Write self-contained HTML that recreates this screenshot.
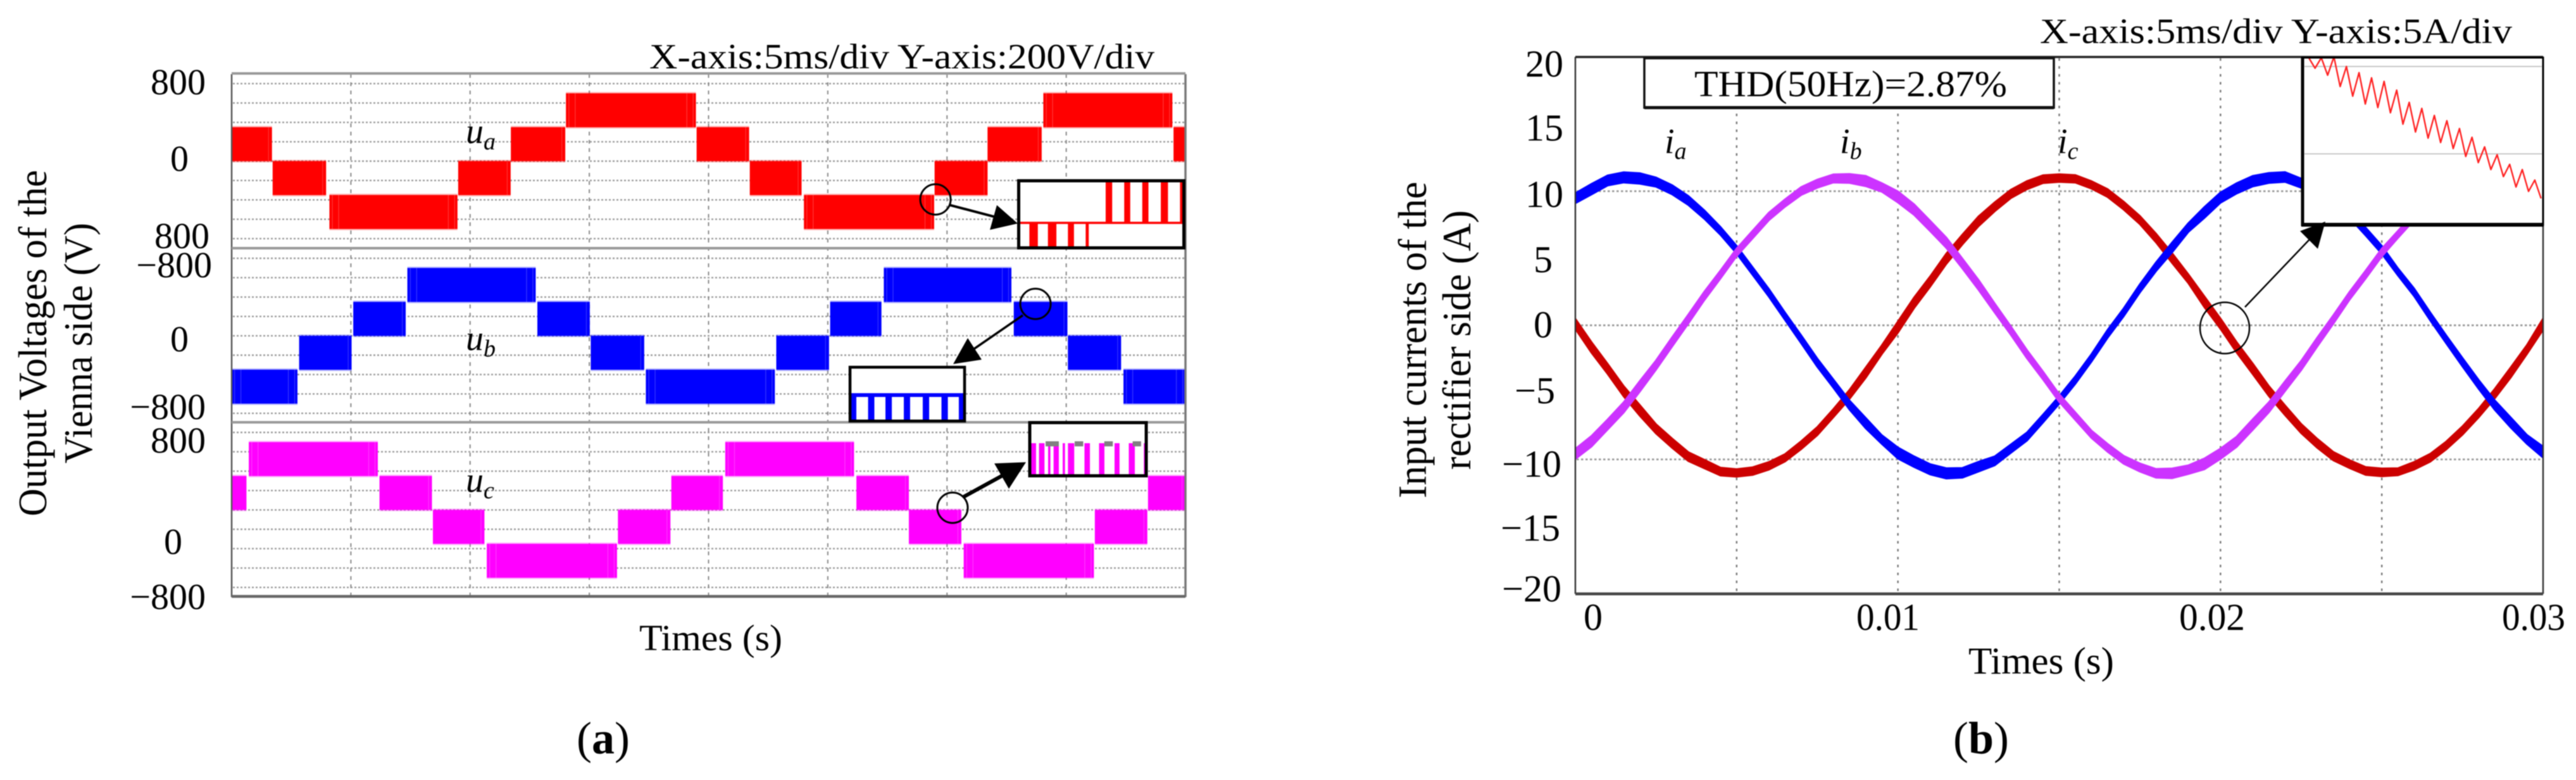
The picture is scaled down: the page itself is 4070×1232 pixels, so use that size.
<!DOCTYPE html>
<html lang="en">
<head>
<meta charset="utf-8">
<title>Vienna rectifier voltages and currents</title>
<style>
html,body{margin:0;padding:0;background:#fff;}
svg{display:block;width:4070px;height:1232px;font-family:"Liberation Serif","Times New Roman",serif;fill:#000;filter:blur(0.8px);}
</style>
</head>
<body>
<svg id="fig" xmlns="http://www.w3.org/2000/svg" width="4070" height="1232" viewBox="0 0 4070 1232">
  <rect x="0" y="0" width="4070" height="1232" fill="#fff"/>
  <defs>
    <clipPath id="clip-b"><rect x="2489" y="90" width="1529" height="848"/></clipPath>
    <clipPath id="clip-inset-red"><rect x="1612" y="288" width="257" height="102"/></clipPath>
    <clipPath id="clip-inset-blue"><rect x="1345" y="582" width="177" height="81"/></clipPath>
    <clipPath id="clip-inset-magenta"><rect x="1629" y="670" width="180" height="80"/></clipPath>
    <clipPath id="clip-inset-b"><rect x="3640" y="91" width="377" height="260"/></clipPath>
  </defs>

  <g id="panel-a-grid"></g>
  <g id="panel-a-waves"></g>
  <g id="panel-a-frame">
    <line x1="366" y1="117" x2="366" y2="943" stroke="#555" stroke-width="2.5"/>
    <line x1="1873" y1="117" x2="1873" y2="943" stroke="#777" stroke-width="3.5"/>
    <line x1="366" y1="116" x2="1873" y2="116" stroke="#999" stroke-width="4"/>
    <line x1="366" y1="392" x2="1873" y2="392" stroke="#999" stroke-width="4"/>
    <line x1="366" y1="667" x2="1873" y2="667" stroke="#999" stroke-width="4"/>
    <line x1="366" y1="942" x2="1873" y2="942" stroke="#666" stroke-width="4.5"/>
  </g>

  <g id="panel-a-text" font-size="58">
    <text x="1026" y="108" font-size="56" textLength="798" lengthAdjust="spacingAndGlyphs">X-axis:5ms/div Y-axis:200V/div</text>
    <text x="325" y="149" text-anchor="end">800</text>
    <text x="298" y="270" text-anchor="end">0</text>
    <text x="331" y="392" text-anchor="end">800</text>
    <text x="335" y="438" text-anchor="end">−800</text>
    <text x="298" y="555" text-anchor="end">0</text>
    <text x="325" y="662" text-anchor="end">−800</text>
    <text x="325" y="715" text-anchor="end">800</text>
    <text x="288" y="875" text-anchor="end">0</text>
    <text x="325" y="962" text-anchor="end">−800</text>
    <text transform="rotate(-90 73 542)" x="73" y="542" text-anchor="middle" font-size="64" textLength="547" lengthAdjust="spacingAndGlyphs">Output Voltages of the</text>
    <text transform="rotate(-90 145 542)" x="145" y="542" text-anchor="middle" font-size="64" textLength="380" lengthAdjust="spacingAndGlyphs">Vienna side (V)</text>
    <text x="1010" y="1027" textLength="226" lengthAdjust="spacingAndGlyphs">Times (s)</text>
    <text x="953" y="1190" text-anchor="middle" font-size="72">(<tspan font-weight="bold">a</tspan>)</text>
    <text x="736" y="226" font-size="56" font-style="italic">u<tspan font-size="38" dy="10">a</tspan></text>
    <text x="736" y="553" font-size="56" font-style="italic">u<tspan font-size="38" dy="10">b</tspan></text>
    <text x="736" y="777" font-size="56" font-style="italic">u<tspan font-size="38" dy="10">c</tspan></text>
  </g>

  <g id="panel-a-insets"></g>

  <g id="panel-a-annot" fill="none" stroke="#000">
    <circle cx="1478" cy="315" r="24" stroke-width="3"/>
    <line x1="1501" y1="324" x2="1585" y2="346" stroke-width="4"/>
    <polygon points="1608,353 1575,324 1564,363" fill="#000" stroke="none"/>
    <circle cx="1636" cy="480" r="24" stroke-width="3"/>
    <line x1="1616" y1="498" x2="1526" y2="560" stroke-width="3.5"/>
    <polygon points="1506,575 1529,534 1551,568" fill="#000" stroke="none"/>
    <circle cx="1505" cy="802" r="24" stroke-width="3"/>
    <line x1="1522" y1="785" x2="1595" y2="745" stroke-width="6"/>
    <polygon points="1621,730 1571,732 1594,772" fill="#000" stroke="none"/>
  </g>

  <g id="panel-b-grid"></g>
  <g id="panel-b-curves" clip-path="url(#clip-b)"></g>
  <g id="panel-b-frame">
    <line x1="2489" y1="90" x2="2489" y2="938" stroke="#333" stroke-width="2.5"/>
    <line x1="4018" y1="90" x2="4018" y2="938" stroke="#333" stroke-width="2.5"/>
    <line x1="2489" y1="90" x2="4018" y2="90" stroke="#222" stroke-width="3.5"/>
    <line x1="2489" y1="938" x2="4018" y2="938" stroke="#444" stroke-width="4.5"/>
  </g>

  <g id="panel-b-thd">
    <rect x="2598" y="92" width="647" height="78" fill="#fff" stroke="#111" stroke-width="3.5"/>
    <line x1="2598" y1="170" x2="3245" y2="170" stroke="#111" stroke-width="5"/>
    <text x="2677" y="152" font-size="58" textLength="494" lengthAdjust="spacingAndGlyphs">THD(50Hz)=2.87%</text>
  </g>

  <g id="panel-b-text" font-size="60">
    <text x="3223" y="68" font-size="56" textLength="746" lengthAdjust="spacingAndGlyphs">X-axis:5ms/div Y-axis:5A/div</text>
    <text x="2470" y="121" text-anchor="end">20</text>
    <text x="2470" y="222" text-anchor="end">15</text>
    <text x="2470" y="327" text-anchor="end">10</text>
    <text x="2453" y="430" text-anchor="end">5</text>
    <text x="2453" y="533" text-anchor="end">0</text>
    <text x="2457" y="637" text-anchor="end">−5</text>
    <text x="2467" y="753" text-anchor="end">−10</text>
    <text x="2465" y="854" text-anchor="end">−15</text>
    <text x="2467" y="950" text-anchor="end">−20</text>
    <text x="2502" y="995">0</text>
    <text x="2933" y="995" textLength="100" lengthAdjust="spacingAndGlyphs">0.01</text>
    <text x="3443" y="995" textLength="104" lengthAdjust="spacingAndGlyphs">0.02</text>
    <text x="3953" y="995" textLength="100" lengthAdjust="spacingAndGlyphs">0.03</text>
    <text transform="rotate(-90 2253 537)" x="2253" y="537" text-anchor="middle" font-size="64" textLength="500" lengthAdjust="spacingAndGlyphs">Input currents of the</text>
    <text transform="rotate(-90 2323 537)" x="2323" y="537" text-anchor="middle" font-size="64" textLength="410" lengthAdjust="spacingAndGlyphs">rectifier side (A)</text>
    <text x="3110" y="1064" textLength="230" lengthAdjust="spacingAndGlyphs">Times (s)</text>
    <text x="3130" y="1190" text-anchor="middle" font-size="72">(<tspan font-weight="bold">b</tspan>)</text>
    <text x="2630" y="242" font-size="56" font-style="italic">i<tspan font-size="38" dy="9">a</tspan></text>
    <text x="2907" y="242" font-size="56" font-style="italic">i<tspan font-size="38" dy="9">b</tspan></text>
    <text x="3251" y="242" font-size="56" font-style="italic">i<tspan font-size="38" dy="9">c</tspan></text>
  </g>

  <g id="panel-b-inset">
    <rect x="3638" y="91" width="380" height="263" fill="#fff"/>
    <g id="panel-b-inset-marks" clip-path="url(#clip-inset-b)"></g>
    <rect x="3638" y="91" width="380" height="264" fill="none" stroke="#000" stroke-width="3"/>
    <line x1="3638" y1="90" x2="3638" y2="357" stroke="#000" stroke-width="5"/>
    <line x1="3636" y1="355" x2="4019" y2="355" stroke="#000" stroke-width="6"/>
  </g>

  <g id="panel-b-annot" fill="none" stroke="#000">
    <ellipse cx="3515" cy="518" rx="39" ry="40.5" stroke-width="2.5"/>
    <line x1="3547" y1="485" x2="3652" y2="375" stroke-width="2.5"/>
    <polygon points="3674,350 3634,365 3662,393" fill="#000" stroke="none"/>
  </g>
</svg>

<script>
/* ---------- Panel (a): output voltages ---------- */
const voltageGridValues = [800, 600, 400, 200, 0, -200, -400, -600, -800];
const timeGridA = [5, 10, 15, 20, 25, 30, 35];

/* segment start (ms), end (ms), outer level of the band (V) */
const uaStart = [0, 1.72, 4.1, 9.5, 11.71, 14.02, 19.5, 21.73, 24.0, 29.48, 31.7, 34.04, 39.5];
const uaEnd   = [1.69, 3.96, 9.47, 11.7, 13.99, 19.47, 21.7, 23.9, 29.46, 31.7, 33.97, 39.45, 40];
const uaLevel = [350, -350, -700, -350, 350, 700, 350, -350, -700, -350, 350, 700, 350];

const ubStart = [0, 2.83, 5.1, 7.37, 12.82, 15.06, 17.37, 22.84, 25.1, 27.35, 32.8, 35.07, 37.4];
const ubEnd   = [2.76, 5.03, 7.3, 12.75, 15.02, 17.3, 22.78, 25.05, 27.25, 32.7, 35.05, 37.3, 40];
const ubLevel = [-700, -350, 350, 700, 350, -350, -700, -350, 350, 700, 350, -350, -700];

const ucStart = [0, 0.72, 6.2, 8.44, 10.7, 16.2, 18.44, 20.7, 26.2, 28.4, 30.7, 36.2, 38.43];
const ucEnd   = [0.62, 6.13, 8.4, 10.6, 16.16, 18.4, 20.6, 26.1, 28.4, 30.6, 36.16, 38.4, 40];
const ucLevel = [350, 700, 350, -350, -700, -350, 350, 700, 350, -350, -700, -350, 350];

/* zoomed PWM pulses, local time 0-100 */
const uaZoomUpStart = [52.5, 63.9, 75, 86.4, 98.2];
const uaZoomUpEnd   = [56.5, 67.6, 78.8, 90.8, 100];
const uaZoomDownStart = [5.6, 17, 29.3, 40.2];
const uaZoomDownEnd   = [10.8, 22.2, 33, 42.1];
const ubZoomStart = [0, 15, 30.5, 46.9, 63.8, 80.5, 96];
const ubZoomEnd   = [4.5, 20.6, 36.2, 52.5, 69.5, 86.2, 100];
const ucZoomStart = [0, 7, 15, 19.8, 27.8, 32.4, 46.9, 59.7, 73.3, 85.8, 99];
const ucZoomEnd   = [4.4, 11.8, 17, 24.4, 29.8, 37.9, 51.7, 64.4, 77.7, 91.1, 100];
const ucZoomMarkerStart = [12.8, 38.3, 64.3, 89.2];
const ucZoomMarkerEnd   = [24.4, 45.8, 71.8, 96.6];

/* ---------- Panel (b): input currents ---------- */
const timeGridB = [5, 10, 15, 20, 25];
const currentGridValues = [10, 0, -10];
const sampleStepMs = 0.5;
const iaValues = [9.47,10.2,10.75,11.05,10.9,10.7,10.05,9.3,8.2,7.05,5.6,4.05,2.4,0.7,-1.05,-2.75,-4.35,-5.9,-7.25,-8.5,
  -9.5,-10.2,-10.7,-11.1,-11.0,-10.6,-10.1,-9.25,-8.3,-7.0,-5.55,-4.1,-2.4,-0.65,1.0,2.75,4.4,5.85,7.3,8.45,
  9.5,10.25,10.7,11.0,11.0,10.6,10.1,9.3,8.25,7.0,5.6,4.0,2.45,0.7,-1.05,-2.7,-4.4,-5.9,-7.25,-8.5,-9.45];
const ibValues = [-9.6,-8.6,-7.45,-6.1,-4.6,-2.95,-1.3,0.45,2.15,3.8,5.4,6.8,8.1,9.15,10.0,10.6,10.95,11.0,10.8,10.3,
  9.6,8.6,7.45,6.1,4.6,2.95,1.3,-0.45,-2.15,-3.8,-5.4,-6.8,-8.1,-9.15,-10.0,-10.6,-11.0,-11.0,-10.75,-10.3,
  -9.6,-8.65,-7.45,-6.1,-4.6,-3.0,-1.3,0.45,2.15,3.8,5.4,6.8,8.1,9.15,10.0,10.6,10.9,11.0,10.8,10.3,9.6];
const icValues = [0.1,-1.6,-3.3,-4.9,-6.4,-7.7,-8.85,-9.8,-10.4,-10.9,-11.05,-10.85,-10.5,-9.85,-8.95,-7.85,-6.55,-5.1,-3.5,-1.8,
  -0.1,1.65,3.3,4.9,6.4,7.7,8.85,9.75,10.45,10.85,11.0,10.9,10.5,9.85,8.95,7.85,6.55,5.05,3.5,1.8,
  0.1,-1.6,-3.3,-4.9,-6.4,-7.7,-8.85,-9.75,-10.4,-10.85,-11.0,-10.9,-10.5,-9.85,-8.95,-7.8,-6.55,-5.05,-3.5,-1.8,0.1];
/* ripple half-width (A) read at each sample, thick and ragged on the crests */
const rippleBand = [0.38,0.34,0.42,0.36,0.44,0.32,0.40,0.34,0.36,0.28,0.32,0.26,0.30,0.24,0.30,0.26,0.30,0.28,0.34,0.30,
  0.38,0.42,0.34,0.44,0.36,0.42,0.32,0.36,0.30,0.34,0.26,0.30,0.24,0.30,0.26,0.30,0.28,0.32,0.30,0.36,
  0.40,0.34,0.44,0.36,0.42,0.34,0.38,0.30,0.34,0.28,0.32,0.24,0.30,0.26,0.28,0.26,0.32,0.30,0.36,0.32,0.40];
/* inset trace on local scale: the two pale reference lines are 1 and 0 */
const insetCurrent = [1.10,0.98,1.10,0.90,1.11,0.77,1.00,0.66,0.93,0.57,0.87,0.53,0.83,0.47,0.73,0.34,0.59,0.25,0.52,
  0.18,0.44,0.13,0.38,0.06,0.29,-0.03,0.19,-0.10,0.08,-0.18,-0.01,-0.26,-0.12,-0.38,-0.18,-0.43,-0.30,-0.51];
const insetGridValues = [1, 0];

/* ---------- axes ---------- */
const NS = 'http://www.w3.org/2000/svg';
function mk(parentId, tag, attrs) {
  const el = document.createElementNS(NS, tag);
  for (const k in attrs) el.setAttribute(k, attrs[k]);
  document.getElementById(parentId).appendChild(el);
  return el;
}
const xA = t => 366 + t * (1873 - 366) / 40;
const yVolt = (centre, v) => centre - v * 0.153;
const xB = t => 2489 + t * (4018 - 2489) / 30;
const yB = a => 513.8 - a * 21.18;

/* ---------- panel (a) grid ---------- */
const voltPanels = [254.5, 530.4, 805.4];
voltPanels.forEach(c => {
  voltageGridValues.forEach(v => {
    const g = mk('panel-a-grid', 'line', {x1: 368, x2: 1871, y1: yVolt(c, v), y2: yVolt(c, v), stroke: '#9a9a9a', 'stroke-width': 2.4, 'stroke-dasharray': '3 3'});
    
    
  });
});
timeGridA.forEach(t => {
  const g = mk('panel-a-grid', 'line', {x1: xA(t), x2: xA(t), y1: 117, y2: 942, stroke: '#8a8a8a', 'stroke-width': 2, 'stroke-dasharray': '6 7'});
  
  
});

/* ---------- panel (a) staircase waveforms ---------- */
function drawBands(centre, starts, ends, levels, colour, name) {
  starts.forEach((s, i) => {
    const outer = levels[i];
    const inner = outer > 0 ? outer - 350 : outer + 350;
    const yTop = yVolt(centre, Math.max(outer, inner));
    const yBot = yVolt(centre, Math.min(outer, inner));
    const r = mk('panel-a-waves', 'rect', {x: xA(s), y: yTop, width: xA(ends[i]) - xA(s), height: yBot - yTop, fill: colour});
    
    
    const halo = mk('panel-a-waves', 'rect', {x: xA(s), y: yTop - 2, width: xA(ends[i]) - xA(s), height: yBot - yTop + 4, fill: colour, opacity: 0.3});
    
    
    const segW = xA(ends[i]) - xA(s);
    if (Math.abs(outer) === 700) {
      [4, 14, segW - 5, segW - 15].forEach(off => {
        const st = mk('panel-a-waves', 'rect', {x: xA(s) + off, y: yTop, width: 1.2, height: yBot - yTop, fill: '#fff', opacity: 0.22});
        
        
      });
    } else if (segW > 40) {
      [segW - 6].forEach(off => {
        const st = mk('panel-a-waves', 'rect', {x: xA(s) + off, y: yTop, width: 1.2, height: yBot - yTop, fill: '#fff', opacity: 0.2});
        
        
      });
    }
  });
}
drawBands(voltPanels[0], uaStart, uaEnd, uaLevel, '#ff0000', 'ua');
drawBands(voltPanels[1], ubStart, ubEnd, ubLevel, '#0000ff', 'ub');
drawBands(voltPanels[2], ucStart, ucEnd, ucLevel, '#ff00ff', 'uc');

/* ---------- panel (a) insets ---------- */
function insetGroup(clip, name) {
  const g = mk('panel-a-insets', 'g', {id: name, 'clip-path': 'url(#' + clip + ')'});
  
  
  return g;
}
function insetBg(x, y, w, h, name) {
  const r = mk('panel-a-insets', 'rect', {x: x, y: y, width: w, height: h, fill: '#fff'});
  
  
}
function insetFrame(x, y, w, h, sw, name) {
  const r = mk('panel-a-insets', 'rect', {x: x, y: y, width: w, height: h, fill: 'none', stroke: '#000', 'stroke-width': sw});
  
  
}
function pulses(groupId, starts, ends, toX, yA, yB2, colour, name) {
  starts.forEach((s, i) => {
    const r = mk(groupId, 'rect', {x: toX(s), y: Math.min(yA, yB2), width: toX(ends[i]) - toX(s), height: Math.abs(yB2 - yA), fill: colour});
    
    
  });
}
/* red inset */
insetBg(1609, 285, 262, 107, 'ua-inset-background');
insetGroup('clip-inset-red', 'ua-inset-marks');
const zxRed = u => 1612 + u * 2.57;
pulses('ua-inset-marks', uaZoomUpStart, uaZoomUpEnd, zxRed, 352, 287, '#ff0000', 'ua-inset-pulse-up');
pulses('ua-inset-marks', uaZoomDownStart, uaZoomDownEnd, zxRed, 352, 390, '#ff0000', 'ua-inset-pulse-down');
const redBase = mk('ua-inset-marks', 'line', {x1: zxRed(0), x2: zxRed(100), y1: 352, y2: 352, stroke: '#ff0000', 'stroke-width': 3.5});


insetFrame(1609.5, 285.5, 261, 106, 5, 'ua-inset-frame');
/* blue inset */
insetBg(1343, 580, 181, 85, 'ub-inset-background');
insetGroup('clip-inset-blue', 'ub-inset-marks');
const zxBlue = u => 1345 + u * 1.77;
pulses('ub-inset-marks', ubZoomStart, ubZoomEnd, zxBlue, 624, 664, '#0000ff', 'ub-inset-pulse');
const blueBase = mk('ub-inset-marks', 'line', {x1: zxBlue(0), x2: zxBlue(100), y1: 624, y2: 624, stroke: '#0000ff', 'stroke-width': 6});


insetFrame(1343, 580, 181, 85, 4.5, 'ub-inset-frame');
/* magenta inset */
insetBg(1627, 667, 184, 84, 'uc-inset-background');
insetGroup('clip-inset-magenta', 'uc-inset-marks');
const zxMag = u => 1629 + u * 1.8;
pulses('uc-inset-marks', ucZoomStart, ucZoomEnd, zxMag, 700, 750, '#ff00ff', 'uc-inset-pulse');
pulses('uc-inset-marks', ucZoomMarkerStart, ucZoomMarkerEnd, zxMag, 697, 705, '#808080', 'uc-inset-sample-marker');
insetFrame(1627, 667.5, 184, 84, 5, 'uc-inset-frame');

/* ---------- panel (b) grid ---------- */
timeGridB.forEach(t => {
  const g = mk('panel-b-grid', 'line', {x1: xB(t), x2: xB(t), y1: 92, y2: 936, stroke: '#777', 'stroke-width': 2.4, 'stroke-dasharray': '4 8.5'});
  
  
});
currentGridValues.forEach(a => {
  const g = mk('panel-b-grid', 'line', {x1: 2491, x2: 4016, y1: yB(a), y2: yB(a), stroke: '#999', 'stroke-width': 2.8, 'stroke-dasharray': '3.5 3.5'});
  
  
});

/* ---------- panel (b) currents ---------- */
function drawCurrent(values, colour, name) {
  const upper = values.map((v, i) => xB(i * sampleStepMs).toFixed(1) + ',' + yB(v + rippleBand[i]).toFixed(1));
  const lower = values.map((v, i) => xB(i * sampleStepMs).toFixed(1) + ',' + yB(v - rippleBand[(i + 3) % rippleBand.length]).toFixed(1)).reverse();
  const p = mk('panel-b-curves', 'polygon', {points: upper.concat(lower).join(' '), fill: colour, stroke: colour, 'stroke-width': 3, 'stroke-linejoin': 'miter'});
  
  
}
drawCurrent(icValues, '#cc0000', 'ic-curve');
drawCurrent(iaValues, '#0000ff', 'ia-curve');
drawCurrent(ibValues, '#cc33ff', 'ib-curve');

/* ---------- panel (b) inset ---------- */
const xInset = i => 3647.8 + i * 9.92;
const yInset = v => 243 - v * 138;
insetGridValues.forEach(v => {
  const g = mk('panel-b-inset-marks', 'line', {x1: 3641, x2: 4016, y1: yInset(v), y2: yInset(v), stroke: '#c8c8c8', 'stroke-width': 2});
  
  
});
const insetTrace = mk('panel-b-inset-marks', 'polyline', {
  points: insetCurrent.map((v, i) => xInset(i).toFixed(1) + ',' + yInset(v).toFixed(1)).join(' '),
  fill: 'none', stroke: '#ff2020', 'stroke-width': 2.4, 'stroke-linejoin': 'round'
});


</script>
</body>
</html>
